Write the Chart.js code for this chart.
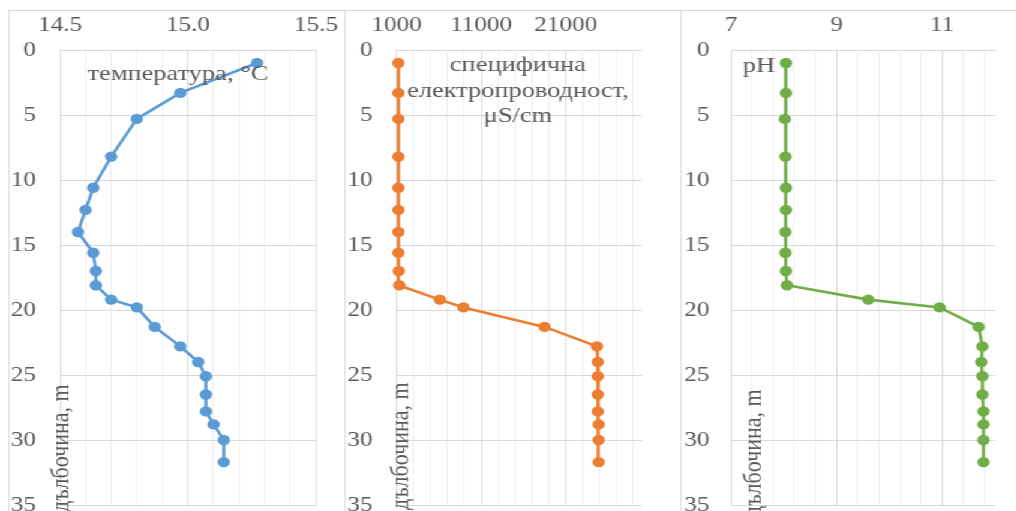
<!DOCTYPE html>
<html>
<head>
<meta charset="utf-8">
<script src="https://cdn.jsdelivr.net/npm/chart.js@4.4.1/dist/chart.umd.min.js"></script>
<style>
  html, body { margin: 0; padding: 0; background: #fff; width: 1016px; height: 511px; overflow: hidden; }
  /* the three profiles are laid out narrow, then stretched horizontally */
  #stage { position: absolute; left: 0; top: 0; width: 847px; height: 540px; transform: scaleX(1.2); transform-origin: 0 0; }
  .rule { position: absolute; background: #d9d9d9; }
  canvas { position: absolute; top: 10px; }
</style>
</head>
<body>
<div id="stage">
  <div class="rule" style="left:6.67px; top:10px; width:841px; height:1px;"></div>
  <div class="rule" style="left:6.67px; top:10px; width:1px; height:530px;"></div>
  <div class="rule" style="left:286.67px; top:10px; width:1px; height:530px;"></div>
  <div class="rule" style="left:566.67px; top:10px; width:1px; height:530px;"></div>
  <canvas id="cTemp" width="280" height="520" style="left:7px;"></canvas>
  <canvas id="cCond" width="280" height="520" style="left:287px;"></canvas>
  <canvas id="cPh" width="280" height="520" style="left:567px;"></canvas>
</div>
<script>
// Depth of each measurement, m
const depth = [1.0, 3.3, 5.3, 8.2, 10.6, 12.3, 14.0, 15.6, 17.0, 18.1, 19.2, 19.8, 21.3, 22.8, 24.0, 25.1, 26.5, 27.8, 28.8, 30.0, 31.7];

// Water temperature, °C
const temperature = [15.27, 14.97, 14.80, 14.70, 14.63, 14.60, 14.57, 14.63, 14.64, 14.64, 14.70, 14.80, 14.87, 14.97, 15.04, 15.07, 15.07, 15.07, 15.10, 15.14, 15.14];

// Specific electrical conductivity, µS/cm
const conductivity = [1200, 1200, 1200, 1200, 1200, 1200, 1200, 1200, 1250, 1300, 6100, 8900, 18500, 24700, 24800, 24800, 24800, 24800, 24900, 24900, 24900];

// pH
const ph = [8.04, 8.04, 8.02, 8.03, 8.04, 8.04, 8.03, 8.03, 8.04, 8.06, 9.60, 10.95, 11.69, 11.76, 11.74, 11.76, 11.76, 11.78, 11.78, 11.78, 11.78];

// Axis ticks (grid every tick, labels on the major ones)
const depthTicks = [0, 5, 10, 15, 20, 25, 30, 35];
const tempTicks = [14.5, 14.6, 14.7, 14.8, 14.9, 15.0, 15.1, 15.2, 15.3, 15.4, 15.5];
const tempLabels = [14.5, 15.0, 15.5];
const condTicks = [1000, 3000, 5000, 7000, 9000, 11000, 13000, 15000, 17000, 19000, 21000, 23000, 25000, 27000, 29000];
const condLabels = [1000, 11000, 21000];
const phTicks = [7.0, 7.4, 7.8, 8.2, 8.6, 9.0, 9.4, 9.8, 10.2, 10.6, 11.0, 11.4, 11.8];
const phLabels = [7, 9, 11];

const depthTitle = 'дълбочина, m';

const TEXT = '#595959';
const GRID = '#d9d9d9';
const MINOR = '#efefef';
const FONT = 'Liberation Serif, Times New Roman, serif';

// Free text inside the plot: series caption and the rotated depth title
const panelText = {
  id: 'panelText',
  afterDraw(chart, args, opts) {
    const { ctx, chartArea } = chart;
    ctx.save();
    ctx.fillStyle = TEXT;
    ctx.font = '22px ' + FONT;
    ctx.textBaseline = 'alphabetic';
    (opts.labels || []).forEach(l => {
      ctx.textAlign = l.align || 'center';
      ctx.fillText(l.text, chartArea.left + l.dx, chartArea.top + l.dy);
    });
    if (opts.title) {
      const t = opts.title;
      ctx.translate(chartArea.left + t.dx, chartArea.bottom + t.dy);
      ctx.rotate(-Math.PI / 2);
      ctx.textAlign = 'left';
      ctx.fillText(t.text, 0, 0);
    }
    ctx.restore();
  }
};

function isMajor(v, majors) {
  return majors.some(m => Math.abs(m - v) < 1e-6);
}

function fmt(v, decimals) {
  return decimals ? v.toFixed(decimals) : String(v);
}

function profile(canvasId, values, color, xMin, xMax, ticks, majors, decimals, box, text) {
  const points = values.map((v, i) => ({ x: v, y: depth[i] }));
  return new Chart(document.getElementById(canvasId), {
    type: 'scatter',
    data: {
      datasets: [{
        data: points,
        showLine: true,
        borderColor: color,
        backgroundColor: color,
        borderWidth: 2.6,
        pointRadius: 5.2,
        pointHoverRadius: 5.2,
        pointBorderWidth: 0,
        clip: false
      }]
    },
    options: {
      responsive: false,
      animation: false,
      devicePixelRatio: 1,
      layout: { padding: { left: 0, top: 0, right: box.right, bottom: 25 } },
      plugins: {
        legend: { display: false },
        tooltip: { enabled: false },
        panelText: text
      },
      scales: {
        x: {
          type: 'linear',
          position: 'top',
          min: xMin,
          max: xMax,
          afterBuildTicks: s => { s.ticks = ticks.map(v => ({ value: v })); },
          afterFit: s => { s.height = 40; s.paddingLeft = 0; s.paddingRight = 0; },
          ticks: {
            autoSkip: false,
            maxRotation: 0,
            padding: 12,
            color: TEXT,
            font: { family: FONT, size: 21 },
            callback: v => isMajor(v, majors) ? fmt(v, decimals) : ''
          },
          grid: {
            drawTicks: false,
            lineWidth: 1,
            color: c => (c.tick && isMajor(c.tick.value, majors)) ? GRID : MINOR
          },
          border: { display: true, color: GRID, width: 1 }
        },
        y: {
          type: 'linear',
          position: 'left',
          reverse: true,
          min: 0,
          max: 35,
          afterBuildTicks: s => { s.ticks = depthTicks.map(v => ({ value: v })); },
          afterFit: s => { s.width = box.left; s.paddingTop = 0; s.paddingBottom = 0; },
          ticks: {
            padding: box.pad,
            color: TEXT,
            font: { family: FONT, size: 21 }
          },
          grid: { drawTicks: false, color: GRID, lineWidth: 1 },
          border: { display: true, color: GRID, width: 1 }
        }
      }
    },
    plugins: [panelText]
  });
}

profile('cTemp', temperature, '#5B9BD5', 14.5, 15.5, tempTicks, tempLabels, 1,
  { left: 43, right: 23.7, pad: 20 },
  { labels: [{ text: 'температура, °C', dx: 98.3, dy: 30 }],
    title: { text: depthTitle, dx: 6.7, dy: 7 } });

profile('cCond', conductivity, '#ED7D31', 1000, 30000, condTicks, condLabels, 0,
  { left: 43.6, right: 32.2, pad: 20 },
  { labels: [
      { text: 'специфична', dx: 101, dy: 21 },
      { text: 'електропроводност,', dx: 101, dy: 47 },
      { text: 'μS/cm', dx: 101, dy: 72 }
    ],
    title: { text: depthTitle, dx: 9.4, dy: 5 } });

profile('cPh', ph, '#70AD47', 7, 12, phTicks, phLabels, 0,
  { left: 42.2, right: 17.8, pad: 18 },
  { labels: [{ text: 'pH', dx: 36.7, dy: 22, align: 'right' }],
    title: { text: depthTitle, dx: 25, dy: 12 } });
</script>
</body>
</html>
